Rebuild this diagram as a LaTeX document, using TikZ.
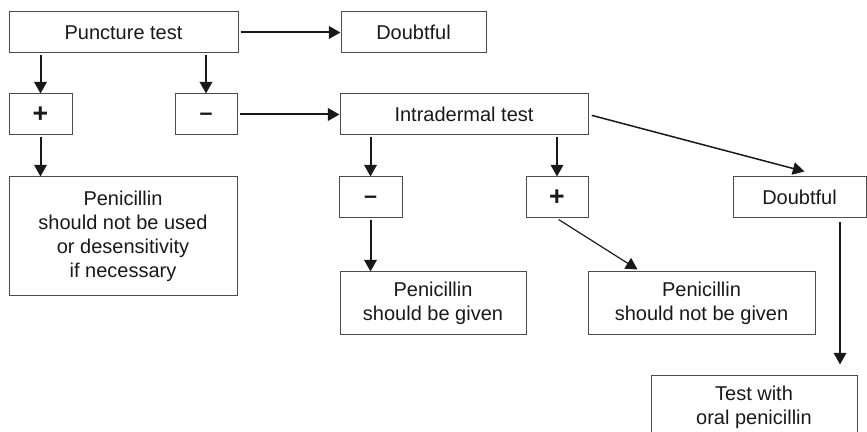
\documentclass[tikz,border=0pt]{standalone}
\usepackage{fontspec}
\setmainfont{Liberation Sans}
\usetikzlibrary{
    positioning,
    calc,
    arrows.meta
}
\tikzset{
  box/.style = {
      draw=black!70,
      line width=0.6pt,
      rectangle,
      inner sep=0pt,
      align=center,
      text=black!90,
      font=\fontsize{12}{14.4}\selectfont
  },
  sign/.style = {
      draw=black!70,
      line width=0.6pt,
      rectangle,
      inner sep=0pt,
      text=black!90,
      font=\fontsize{16}{18}\selectfont\bfseries
  },
  negsign/.style = {
      sign,
      font=\fontsize{14}{16}\selectfont\bfseries,
      text height=7.3pt,
      text depth=0pt
  },
  boxsize/.style 2 args = {
      minimum width=#1*0.6pt,
      minimum height=#2*0.6pt
  },
  flow/.style = {
      line width=1.2pt,
      black!90,
      -{Triangle[length=7pt,width=7.5pt]},
      shorten <=1.2pt
  },
  slant/.style = {
      flow,
      line width=0.9pt
  }
}

\begin{document}
\begin{tikzpicture}[x=0.6pt, y=-0.6pt]
        \useasboundingbox (0,0) rectangle (867,432);
        \clip (0,0) rectangle (867,432);
        % Puncture test row
        \node[box, boxsize={229}{41}] (punct) at (123.5,32.5) {Puncture test};
        \node[box, boxsize={145}{41}, right=61.2pt of punct] (doubt1) {Doubtful};
        \node[sign, boxsize={63}{41}] (plus1) at (40.5,114.5) {+};
        \node[negsign, boxsize={62}{41}] (minus1) at (206,114.5) {\textendash};
        \node[box, boxsize={248}{41}] (intra) at (464,114.5) {Intradermal test};
        \node[box, boxsize={228}{119}] (pen1) at (123,236.5)
            {Penicillin\\should not be used\\or desensitivity\\if necessary};
        % Intradermal results
        \node[negsign, boxsize={63}{41}] (minus2) at (370.5,197.5) {\textendash};
        \node[sign, boxsize={62}{41}] (plus2) at (557,197.5) {+};
        \node[box, boxsize={133}{41}] (doubt2) at (799.5,197.5) {Doubtful};
        \node[box, boxsize={186}{63}] (given) at (433,303.5)
            {Penicillin\\should be given};
        \node[box, boxsize={227}{63}] (notgiven) at (701.5,303.5)
            {Penicillin\\should not be given};
        \node[box, boxsize={206}{63}] (oral) at (754,407.5)
            {Test with\\oral penicillin};
        \coordinate (dtail) at ($(doubt2.south)+(40.5,0)$);
        % Edges
        \draw[flow] (punct) -- (doubt1);
        \draw[flow] (punct.south -| plus1) -- (plus1);
        \draw[flow] (punct.south -| minus1) -- (minus1);
        \draw[flow] (minus1) -- (intra);
        \draw[flow] (plus1.south) -- (plus1.south |- pen1.north);
        \draw[flow] (intra.south -| minus2) -- (minus2);
        \draw[flow] (intra.south -| plus2) -- (plus2);
        \draw[slant, shorten <=2pt] (intra.east) -- ($(doubt2.north)+(5,-5)$);
        \draw[flow] (minus2.south) -- (minus2.south |- given.north);
        \draw[slant, line width=0.7pt] (plus2.south) -- ($(notgiven.north)+(-64,-2)$);
        \draw[flow, shorten <=2.4pt, shorten >=6.6pt] (dtail) -- (dtail |- oral.north);
\end{tikzpicture}
\end{document}
